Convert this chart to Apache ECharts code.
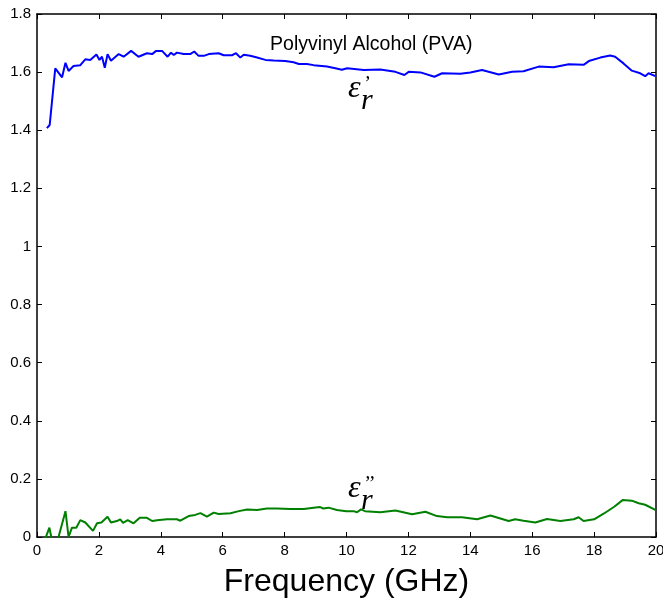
<!DOCTYPE html>
<html><head><meta charset="utf-8">
<script src="https://cdn.jsdelivr.net/npm/echarts@6/dist/echarts.min.js"></script>
<style>html,body{margin:0;padding:0;background:#fff}#c{width:663px;height:599px}</style>
</head><body><div id="c"></div>
<script>
var xTicks = [0,2,4,6,8,10,12,14,16,18,20];
var realFreq = [0.32,0.41,0.59,0.81,0.92,1.02,1.18,1.4,1.56,1.72,1.92,2.02,2.1,2.19,2.28,2.39,2.64,2.8,3.04,3.28,3.55,3.72,3.85,4.04,4.22,4.33,4.42,4.52,4.74,4.95,5.08,5.22,5.39,5.55,5.87,6.03,6.3,6.43,6.57,6.68,6.89,7.11,7.38,7.65,8.02,8.29,8.46,8.72,8.94,9.37,9.64,9.85,10.02,10.56,11.09,11.58,11.87,12.01,12.39,12.84,13.09,13.68,14.0,14.38,14.92,15.35,15.72,16.21,16.69,17.18,17.66,17.83,18.2,18.52,18.68,18.95,19.22,19.49,19.65,19.76,19.98];
var realPerm = [1.407,1.418,1.613,1.582,1.632,1.604,1.621,1.624,1.644,1.642,1.661,1.642,1.653,1.615,1.662,1.639,1.662,1.653,1.673,1.653,1.665,1.662,1.673,1.673,1.653,1.667,1.659,1.667,1.662,1.662,1.671,1.656,1.656,1.662,1.665,1.658,1.658,1.665,1.650,1.660,1.656,1.650,1.642,1.640,1.638,1.634,1.628,1.628,1.624,1.619,1.613,1.608,1.613,1.607,1.609,1.601,1.590,1.601,1.599,1.584,1.596,1.594,1.599,1.607,1.592,1.601,1.603,1.619,1.617,1.627,1.625,1.638,1.650,1.657,1.653,1.630,1.605,1.596,1.586,1.596,1.586];
var imagFreq = [0.27,0.4,0.48,0.67,0.92,1.02,1.13,1.27,1.4,1.56,1.81,1.94,2.08,2.28,2.39,2.58,2.69,2.78,2.93,3.12,3.32,3.55,3.72,3.88,4.2,4.52,4.63,4.9,5.11,5.28,5.49,5.71,5.87,6.25,6.52,6.79,7.11,7.43,7.75,8.19,8.62,8.94,9.15,9.25,9.42,9.69,9.99,10.23,10.34,10.47,10.6,11.09,11.58,12.12,12.55,12.92,13.25,13.73,14.22,14.65,15.24,15.45,15.72,16.1,16.48,16.91,17.34,17.5,17.66,18.0,18.32,18.65,18.92,19.22,19.44,19.65,19.98];
var imagPerm = [-0.005,0.032,-0.01,-0.01,0.089,0.0,0.032,0.032,0.058,0.050,0.021,0.047,0.050,0.070,0.050,0.055,0.061,0.049,0.058,0.047,0.066,0.066,0.055,0.058,0.061,0.061,0.056,0.072,0.076,0.082,0.070,0.084,0.079,0.082,0.089,0.095,0.093,0.098,0.098,0.096,0.096,0.101,0.103,0.098,0.101,0.093,0.089,0.089,0.085,0.095,0.089,0.085,0.091,0.078,0.087,0.072,0.068,0.068,0.061,0.074,0.055,0.061,0.056,0.050,0.062,0.055,0.061,0.068,0.055,0.061,0.081,0.104,0.127,0.125,0.116,0.111,0.093];
var titleText = 'Polyvinyl Alcohol (PVA)';
var xName = 'Frequency (GHz)';

function pairs(xs, ys){ return xs.map(function(x,i){return [x, ys[i]];}); }

var chart = echarts.init(document.getElementById('c'));
var tickStyle = {show:true, inside:true, length:5, lineStyle:{color:'#000', width:1}};
var lineAx = {show:true, onZero:false, lineStyle:{color:'#000', width:1.5}};
chart.setOption({
  animation:false,
  backgroundColor:'#fff',
  grid:{left:37, right:7, top:14, bottom:62, containLabel:false, outerBoundsMode:'none'},
  xAxis:[{
    type:'value', min:0, max:20, interval:2, position:'bottom',
    axisLine:lineAx, axisTick:tickStyle, splitLine:{show:false},
    axisLabel:{color:'#000', fontFamily:'Liberation Sans, Arial', fontSize:15, margin:6},
    name:xName, nameLocation:'middle', nameGap:29,
    nameTextStyle:{color:'#000', fontFamily:'Liberation Sans, Arial', fontSize:32}
  },{
    type:'value', min:0, max:20, interval:2, position:'top',
    axisLine:lineAx, axisTick:tickStyle, axisLabel:{show:false}, splitLine:{show:false}
  }],
  yAxis:[{
    type:'value', min:0, max:1.8, interval:0.2, position:'left',
    axisLine:lineAx, axisTick:tickStyle, splitLine:{show:false},
    axisLabel:{color:'#000', fontFamily:'Liberation Sans, Arial', fontSize:15, margin:6}
  },{
    type:'value', min:0, max:1.8, interval:0.2, position:'right',
    axisLine:lineAx, axisTick:tickStyle, axisLabel:{show:false}, splitLine:{show:false}
  }],
  series:[
    {type:'line', data:pairs(realFreq, realPerm), showSymbol:false, symbol:'none',
     lineStyle:{color:'#0000ff', width:2}, clip:true},
    {type:'line', data:pairs(imagFreq, imagPerm), showSymbol:false, symbol:'none',
     lineStyle:{color:'#008000', width:2}, clip:true}
  ]
});

function px(x,y){ return chart.convertToPixel({xAxisIndex:0, yAxisIndex:0}, [x,y]); }
var pT = px(10.8, 1.695);
var p1 = px(10.05, 1.542);
var p2 = px(10.05, 0.165);
function epsLabel(p, primes){
  return {type:'group', x:p[0], y:p[1], children:[
    {type:'text', x:0, y:0, style:{text:'ε', font:'italic 32px "Liberation Serif", "DejaVu Serif", serif', fill:'#000', textVerticalAlign:'middle'}},
    {type:'text', x:15, y:-4, style:{text:primes, font:'italic 20px "Liberation Serif", serif', fill:'#000', textVerticalAlign:'middle'}},
    {type:'text', x:13, y:12, style:{text:'r', font:'italic 30px "Liberation Serif", serif', fill:'#000', textVerticalAlign:'middle'}}
  ]};
}
chart.setOption({graphic:[
  {type:'text', x:pT[0], y:pT[1], style:{text:titleText, font:'19.5px "Liberation Sans", Arial', fill:'#000', textAlign:'center', textVerticalAlign:'middle'}},
  epsLabel(p1, '\u2019'),
  epsLabel(p2, '\u2019\u2019')
]});
</script></body></html>
